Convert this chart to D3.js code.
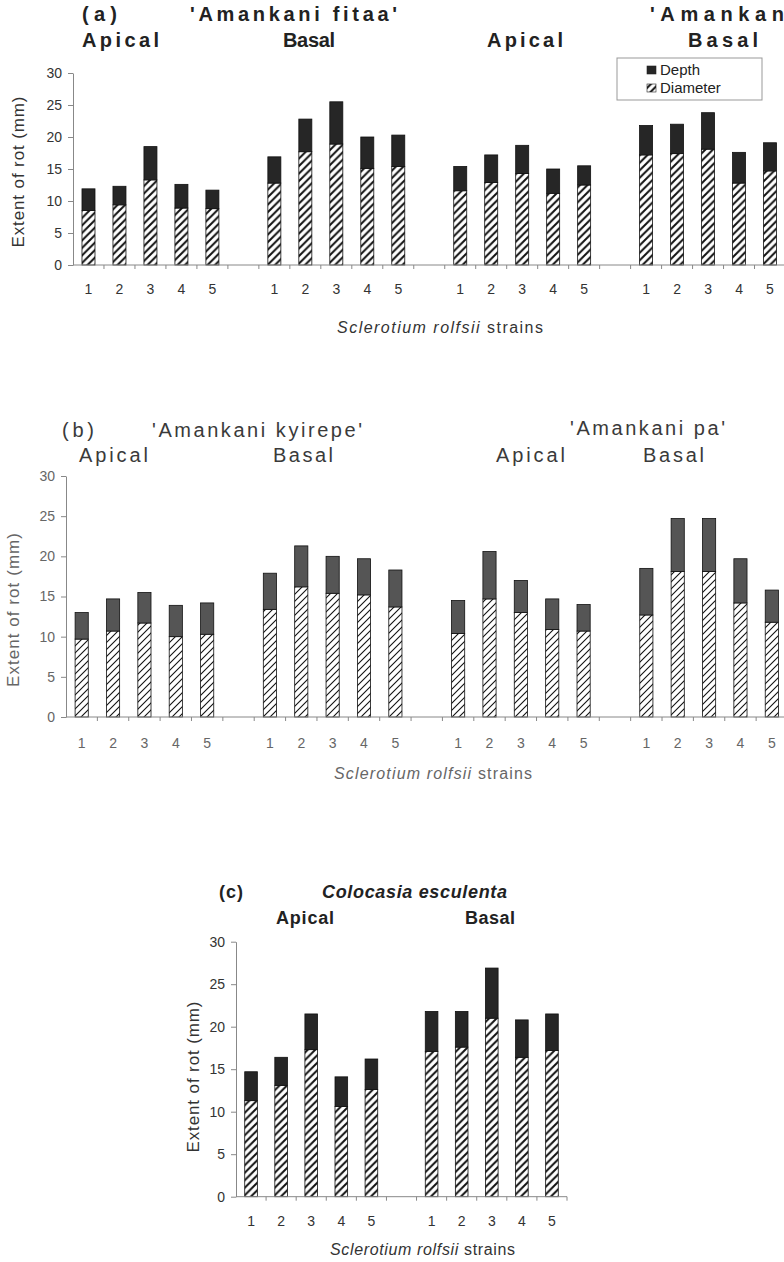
<!DOCTYPE html>
<meta charset="utf-8">
<style>
body { margin: 0; background: #fff; }
svg { font-family: "Liberation Sans", Arial, sans-serif; }
.axis path, .axis line { stroke: #888; stroke-width: 1; }
</style>
<svg width="784" height="1262"></svg>
<script src="https://cdn.jsdelivr.net/npm/d3@7"></script>
<script>

// strains on the x axis
var strains = ["1", "2", "3", "4", "5"];
var yTicks = [0, 5, 10, 15, 20, 25, 30];
var seriesKeys = ["Diameter", "Depth"];

// (a) 'Amankani fitaa' apical/basal, then second cultivar apical/basal
var aDiameter = [[8.5, 9.4, 13.3, 8.9, 8.8], [12.8, 17.7, 18.9, 15.1, 15.4],
                 [11.6, 12.9, 14.3, 11.2, 12.5], [17.2, 17.4, 18.1, 12.8, 14.7]];
var aDepth = [[3.4, 2.9, 5.2, 3.7, 2.9], [4.1, 5.1, 6.6, 4.9, 4.9],
              [3.8, 4.3, 4.4, 3.8, 3.0], [4.6, 4.6, 5.7, 4.8, 4.4]];

// (b) 'Amankani kyirepe' and 'Amankani pa'
var bDiameter = [[9.7, 10.7, 11.7, 10.0, 10.3], [13.4, 16.2, 15.4, 15.2, 13.7],
                 [10.4, 14.7, 13.0, 10.9, 10.7], [12.7, 18.1, 18.1, 14.2, 11.8]];
var bDepth = [[3.3, 4.0, 3.8, 3.9, 3.9], [4.5, 5.1, 4.6, 4.5, 4.6],
              [4.1, 5.9, 4.0, 3.8, 3.3], [5.8, 6.6, 6.6, 5.5, 4.0]];

// (c) Colocasia esculenta
var cDiameter = [[11.3, 13.1, 17.3, 10.6, 12.6], [17.1, 17.6, 21.0, 16.4, 17.2]];
var cDepth = [[3.4, 3.3, 4.2, 3.5, 3.6], [4.7, 4.2, 5.9, 4.4, 4.3]];

var svg = d3.select("svg");
var defs = svg.append("defs");

// diagonal hatch used for the Diameter part
function hatch(id, sw, s) {
  var p = defs.append("pattern")
      .attr("id", id)
      .attr("patternUnits", "userSpaceOnUse")
      .attr("width", s).attr("height", s);
  p.append("rect").attr("width", s).attr("height", s).attr("fill", "#fff");
  p.append("path")
      .attr("d", "M-1," + (s + 1) + " L" + (s + 1) + ",-1 M-1,1 L1,-1 M" + (s - 1) + "," + (s + 1) + " L" + (s + 1) + "," + (s - 1))
      .attr("stroke", "#111").attr("stroke-width", sw);
}
hatch("hatchA", 2, 7.5);
hatch("hatchB", 1.1, 7);
hatch("hatchC", 2, 7.5);

function drawPanel(p) {
  var g = svg.append("g");

  // categories: 5 strains per group, one empty slot between groups
  var cats = [], labels = {}, rows = [];
  p.diameter.forEach(function(grp, gi) {
    if (gi > 0) { cats.push("gap" + gi); labels["gap" + gi] = ""; }
    grp.forEach(function(v, i) {
      var key = gi + "-" + strains[i];
      cats.push(key);
      labels[key] = strains[i];
      rows.push({ cat: key, Diameter: v, Depth: p.depth[gi][i] });
    });
  });

  var x = d3.scaleBand()
      .domain(cats)
      .range([p.x0, p.x1])
      .paddingInner(0.58)
      .paddingOuter(0.29);

  var y = d3.scaleLinear()
      .domain([0, 30])
      .range([p.yBottom, p.yTop]);

  var stacked = d3.stack().keys(seriesKeys)(rows);
  var fills = { Diameter: "url(#" + p.hatch + ")", Depth: p.depthColor };

  g.selectAll(".series")
    .data(stacked)
    .enter().append("g")
      .attr("fill", function(d) { return fills[d.key]; })
    .selectAll("rect")
    .data(function(d) { return d; })
    .enter().append("rect")
      .attr("x", function(d) { return x(d.data.cat); })
      .attr("y", function(d) { return y(d[1]); })
      .attr("width", x.bandwidth())
      .attr("height", function(d) { return y(d[0]) - y(d[1]); })
      .attr("stroke", "#111")
      .attr("stroke-width", 0.8);

  // y axis
  var yAxis = g.append("g")
      .attr("class", "axis")
      .attr("transform", "translate(" + p.x0 + ",0)")
      .call(d3.axisLeft(y).tickValues(yTicks).tickSize(5).tickSizeOuter(0).tickPadding(6));
  yAxis.selectAll("text")
      .attr("font-size", p.tickSize).attr("fill", p.textColor);

  // x axis: strain labels, boundary ticks drawn separately
  var xAxis = g.append("g")
      .attr("class", "axis")
      .attr("transform", "translate(0," + y(0) + ")")
      .call(d3.axisBottom(x).tickSize(0).tickPadding(p.xPad).tickFormat(function(d) { return labels[d]; }));
  xAxis.select(".domain").remove();
  xAxis.selectAll("text")
      .attr("font-size", p.tickSize).attr("fill", p.textColor);

  var gapW = x.step() - x.bandwidth();
  g.append("line")
      .attr("x1", p.x0).attr("x2", p.x1)
      .attr("y1", y(0)).attr("y2", y(0))
      .attr("stroke", "#888");
  g.selectAll(".xtick")
    .data(cats)
    .enter().append("line")
      .attr("x1", function(d) { return x(d) + x.bandwidth() + gapW / 2; })
      .attr("x2", function(d) { return x(d) + x.bandwidth() + gapW / 2; })
      .attr("y1", y(0)).attr("y2", y(0) + 4)
      .attr("stroke", "#888");

  // axis titles
  g.append("text")
      .attr("transform", "translate(" + p.yTitle[0] + "," + p.yTitle[1] + ") rotate(-90)")
      .attr("text-anchor", "middle")
      .attr("font-size", 17)
      .attr("fill", p.textColor)
      .attr("textLength", p.yTitle[2])
      .text("Extent of rot (mm)");

  var xt = g.append("text")
      .attr("x", p.xTitle[0]).attr("y", p.xTitle[1])
      .attr("font-size", 16)
      .attr("fill", p.textColor)
      .attr("textLength", p.xTitle[2]);
  xt.append("tspan").attr("font-style", "italic").text("Sclerotium rolfsii");
  xt.append("tspan").text(" strains");

  // panel headings
  g.selectAll(".title")
    .data(p.titles)
    .enter().append("text")
      .attr("x", function(d) { return d.x; })
      .attr("y", function(d) { return d.y; })
      .attr("font-size", function(d) { return d.size || 20; })
      .attr("font-weight", function(d) { return d.bold ? "bold" : "normal"; })
      .attr("font-style", function(d) { return d.italic ? "italic" : "normal"; })
      .attr("fill", p.titleColor)
      .attr("textLength", function(d) { return d.w; })
      .attr("lengthAdjust", "spacing")
      .text(function(d) { return d.t; });

  return g;
}

// panel (a)
var ga = drawPanel({
  diameter: aDiameter, depth: aDepth,
  x0: 73, x1: 785.5, yBottom: 265, yTop: 73,
  hatch: "hatchA", depthColor: "#262626",
  textColor: "#333", titleColor: "#222", tickSize: 14, xPad: 19,
  yTitle: [24, 172, 151], xTitle: [337, 333, 206],
  titles: [
    { t: "(a)", x: 82, y: 21, w: 35, bold: true },
    { t: "'Amankani fitaa'", x: 190, y: 21, w: 207, bold: true },
    { t: "Apical", x: 82, y: 47, w: 77, bold: true },
    { t: "Basal", x: 283, y: 47, w: 52, bold: true },
    { t: "Apical", x: 487, y: 47, w: 76, bold: true },
    { t: "'Amankan", x: 650, y: 21, w: 134, bold: true },
    { t: "Basal", x: 688, y: 47, w: 70, bold: true }
  ]
});

// legend for (a)
var legend = ga.append("g");
legend.append("rect")
    .attr("x", 617).attr("y", 58).attr("width", 145).attr("height", 42)
    .attr("fill", "#fff").attr("stroke", "#999");
legend.selectAll(".sw")
  .data(["Depth", "Diameter"])
  .enter().append("rect")
    .attr("x", 647).attr("y", function(d, i) { return 66 + i * 18; })
    .attr("width", 9).attr("height", 8)
    .attr("fill", function(d) { return d === "Depth" ? "#262626" : "url(#hatchA)"; })
    .attr("stroke", "#222").attr("stroke-width", 0.6);
legend.selectAll(".lt")
  .data(["Depth", "Diameter"])
  .enter().append("text")
    .attr("x", 660).attr("y", function(d, i) { return 75 + i * 18; })
    .attr("font-size", 15).attr("fill", "#222")
    .text(function(d) { return d; });

// panel (b)
drawPanel({
  diameter: bDiameter, depth: bDepth,
  x0: 66, x1: 787.5, yBottom: 717, yTop: 476,
  hatch: "hatchB", depthColor: "#555",
  textColor: "#666", titleColor: "#3a3a3a", tickSize: 14, xPad: 21,
  yTitle: [19, 610, 154], xTitle: [334, 779, 198],
  titles: [
    { t: "(b)", x: 62, y: 437, w: 32 },
    { t: "'Amankani kyirepe'", x: 152, y: 437, w: 210 },
    { t: "Apical", x: 79, y: 462, w: 69 },
    { t: "Basal", x: 273, y: 462, w: 60 },
    { t: "'Amankani pa'", x: 570, y: 435, w: 155 },
    { t: "Apical", x: 496, y: 462, w: 69 },
    { t: "Basal", x: 643, y: 462, w: 61 }
  ]
});

// panel (c)
drawPanel({
  diameter: cDiameter, depth: cDepth,
  x0: 236, x1: 567, yBottom: 1196.7, yTop: 941.7,
  hatch: "hatchC", depthColor: "#262626",
  textColor: "#333", titleColor: "#222", tickSize: 14, xPad: 19,
  yTitle: [199, 1077, 151], xTitle: [330, 1255, 185],
  titles: [
    { t: "(c)", x: 219, y: 898, w: 24, bold: true, size: 18 },
    { t: "Colocasia esculenta", x: 322, y: 898, w: 185, bold: true, italic: true, size: 18 },
    { t: "Apical", x: 276, y: 924, w: 58, bold: true, size: 18 },
    { t: "Basal", x: 465, y: 924, w: 50, bold: true, size: 18 }
  ]
});

</script>
